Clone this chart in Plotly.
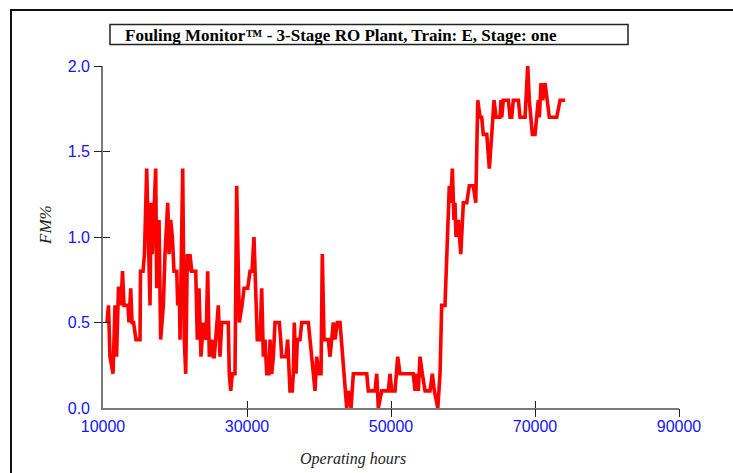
import plotly.graph_objects as go

# Operating hours (x) and fouling monitor FM% (y)
hours = [10560, 10760, 10970, 11390, 11670, 11880, 12150, 12360, 12500, 12710,
         12920, 13470, 13610, 13850, 14030, 14240, 14580, 15140, 15210, 15560,
         15760, 16070, 16530, 16670, 16850, 17320, 17460, 17780, 18010, 18380,
         18610, 18990, 19170, 19400, 19630, 19860, 20240, 20380, 20600, 20700,
         21070, 21290, 21490, 21710, 21850, 22080, 22320, 22880, 23100, 23330,
         23610, 23930, 24310, 24540, 24770, 25100, 25320, 25460, 26020, 26250,
         26490, 27400, 27540, 27740, 27960, 28330, 28570, 28930, 29310, 29590,
         30100, 30420, 30700, 30970, 31430, 31810, 32040, 32270, 32500, 32740,
         33060, 33200, 33430, 33660, 33890, 34490, 34680, 34820, 35420, 35650,
         35970, 36290, 36430, 36570, 36810, 36990, 37360, 37600, 38520, 38750,
         38990, 39210, 39450, 39680, 40000, 40280, 40460, 40700, 41290, 41530,
         41990, 42230, 42540, 42920, 43610, 43850, 44070, 44450, 44770, 46630,
         46850, 47780, 48020, 48240, 48710, 49630, 49860, 50100, 50560, 50930,
         51250, 53100, 53340, 53570, 53800, 54030, 54350, 54730, 55420, 55740,
         56020, 56500, 56810, 57040, 57500, 57640, 57820, 58100, 58300, 58520,
         58750, 58890, 59030, 59350, 59690, 60050, 60520, 60880, 61430, 61770,
         62050, 62370, 62600, 62820, 63300, 63660, 63990, 64310, 64590, 65140,
         65280, 65380, 65600, 66300, 66530, 66770, 66990, 67690, 67920, 68620,
         68990, 69210, 69630, 70000, 70460, 70600, 70840, 71070, 71390, 71630,
         71990, 73020, 73480, 74170]

fm = [0.5, 0.6, 0.3, 0.2, 0.6, 0.3, 0.7, 0.7, 0.6, 0.8,
      0.6, 0.6, 0.5, 0.7, 0.5, 0.5, 0.4, 0.4, 0.8, 0.8,
      0.9, 1.4, 0.6, 1.2, 0.9, 1.4, 0.7, 1.1, 0.4, 0.6,
      0.9, 1.2, 0.9, 1.1, 1.0, 0.8, 0.8, 0.6, 0.7, 0.4,
      1.4, 0.4, 0.2, 0.9, 0.8, 0.9, 0.8, 0.8, 0.4, 0.7,
      0.3, 0.5, 0.4, 0.8, 0.3, 0.4, 0.3, 0.3, 0.6, 0.3,
      0.5, 0.5, 0.2, 0.1, 0.2, 0.2, 1.3, 0.5, 0.6, 0.7,
      0.7, 0.8, 0.8, 1.0, 0.4, 0.4, 0.7, 0.3, 0.4, 0.2,
      0.2, 0.4, 0.2, 0.3, 0.5, 0.5, 0.4, 0.3, 0.3, 0.4,
      0.1, 0.1, 0.2, 0.5, 0.2, 0.4, 0.4, 0.5, 0.5, 0.4,
      0.3, 0.2, 0.1, 0.3, 0.2, 0.2, 0.9, 0.4, 0.4, 0.3,
      0.5, 0.4, 0.5, 0.5, 0.1, 0.0, 0.1, 0.0, 0.2, 0.2,
      0.1, 0.1, 0.2, 0.0, 0.1, 0.1, 0.2, 0.1, 0.1, 0.3,
      0.2, 0.2, 0.1, 0.2, 0.1, 0.3, 0.2, 0.1, 0.1, 0.2,
      0.1, 0.0, 0.2, 0.6, 0.6, 0.8, 0.9, 1.3, 1.2, 1.4,
      1.1, 1.2, 1.0, 1.1, 0.9, 1.2, 1.2, 1.3, 1.3, 1.2,
      1.8, 1.7, 1.7, 1.6, 1.6, 1.4, 1.6, 1.8, 1.7, 1.7,
      1.8, 1.7, 1.8, 1.8, 1.7, 1.7, 1.8, 1.8, 1.7, 1.7,
      2.0, 1.8, 1.6, 1.6, 1.8, 1.7, 1.9, 1.8, 1.9, 1.8,
      1.7, 1.7, 1.8, 1.8]

x_ticks = [10000, 30000, 50000, 70000, 90000]
x_tick_labels = ["10000", "30000", "50000", "70000", "90000"]
y_ticks = [0.0, 0.5, 1.0, 1.5, 2.0]
y_tick_labels = ["0.0", "0.5", "1.0", "1.5", "2.0"]

title_text = "Fouling Monitor\u2122 - 3-Stage RO Plant, Train: E, Stage: one"
x_title = "Operating hours"
y_title = "FM%"

W, H = 733, 473
L, R, T, B = 103, 54, 66, 65
PW, PH = W - L - R, H - T - B


def px(x):
    return (x - L) / PW


def py(y):
    return (H - B - y) / PH


tick_font = dict(family="Liberation Sans, Arial", size=16, color="#1414ff")

fig = go.Figure()
fig.add_trace(go.Scatter(x=hours, y=fm, mode="lines",
                         line=dict(color="#ff0000", width=3.6),
                         hoverinfo="skip", showlegend=False))
# helper invisible traces so overlay tick axes are drawn
fig.add_trace(go.Scatter(x=[x_ticks[0]], y=[y_ticks[0]], xaxis="x2", yaxis="y2",
                         mode="markers", marker=dict(opacity=0), showlegend=False,
                         hoverinfo="skip"))
fig.add_trace(go.Scatter(x=[x_ticks[0]], y=[y_ticks[0]], xaxis="x3", yaxis="y3",
                         mode="markers", marker=dict(opacity=0), showlegend=False,
                         hoverinfo="skip"))

axis_common = dict(showgrid=False, zeroline=False)
fig.update_layout(
    width=W, height=H,
    margin=dict(l=L, r=R, t=T, b=B, pad=0),
    paper_bgcolor="white", plot_bgcolor="white",
    showlegend=False,
    xaxis=dict(range=[x_ticks[0], x_ticks[-1]], tickvals=x_ticks, ticktext=x_tick_labels,
               ticks="outside", ticklen=3, tickcolor="rgba(0,0,0,0)",
               showline=True, linecolor="#7a7a7a", linewidth=1.6,
               tickfont=tick_font, **axis_common),
    yaxis=dict(range=[y_ticks[0], y_ticks[-1]], tickvals=y_ticks, ticktext=y_tick_labels,
               ticks="outside", ticklen=8, tickcolor="rgba(0,0,0,0)",
               showline=True, linecolor="#7a7a7a", linewidth=1.6,
               tickfont=tick_font, **axis_common),
    xaxis2=dict(overlaying="x", anchor="y2", range=[x_ticks[0], x_ticks[-1]],
                tickvals=x_ticks[1:], ticks="outside", ticklen=8, tickcolor="#222",
                tickwidth=1, showticklabels=False, showline=False, **axis_common),
    yaxis2=dict(overlaying="y", anchor="x2", range=[y_ticks[0], y_ticks[-1]],
                tickvals=y_ticks[1:], ticks="outside", ticklen=8, tickcolor="#222",
                tickwidth=1, showticklabels=False, showline=False, **axis_common),
    xaxis3=dict(overlaying="x", anchor="y3", range=[x_ticks[0], x_ticks[-1]],
                tickvals=x_ticks[1:], ticks="inside", ticklen=7, tickcolor="#222",
                tickwidth=1, showticklabels=False, showline=False, **axis_common),
    yaxis3=dict(overlaying="y", anchor="x3", range=[y_ticks[0], y_ticks[-1]],
                tickvals=y_ticks[1:], ticks="inside", ticklen=7, tickcolor="#222",
                tickwidth=1, showticklabels=False, showline=False, **axis_common),
    shapes=[
        # outer frame
        dict(type="rect", xref="paper", yref="paper",
             x0=px(11), x1=px(745), y0=py(10), y1=py(490),
             line=dict(color="#111", width=2), fillcolor="rgba(0,0,0,0)", layer="above"),
        # title box
        dict(type="rect", xref="paper", yref="paper",
             x0=px(110), x1=px(628), y0=py(24.5), y1=py(44.5),
             line=dict(color="#222", width=1.5), fillcolor="white", layer="above"),
    ],
    annotations=[
        dict(text=title_text, xref="paper", yref="paper", x=px(123), y=py(35),
             xanchor="left", yanchor="middle", showarrow=False,
             font=dict(family="Liberation Serif, Times New Roman, serif", size=17,
                       color="black", weight="bold")),
        dict(text="<i>" + x_title + "</i>", xref="paper", yref="paper",
             x=px(353), y=py(459), xanchor="center", yanchor="middle", showarrow=False,
             font=dict(family="Liberation Serif, Times New Roman, serif", size=16,
                       color="#222")),
        dict(text="<i>" + y_title + "</i>", xref="paper", yref="paper",
             x=px(45), y=py(225), xanchor="center", yanchor="middle", showarrow=False,
             textangle=-90,
             font=dict(family="Liberation Serif, Times New Roman, serif", size=17,
                       color="#222")),
    ],
)

fig.write_html("out.html")
